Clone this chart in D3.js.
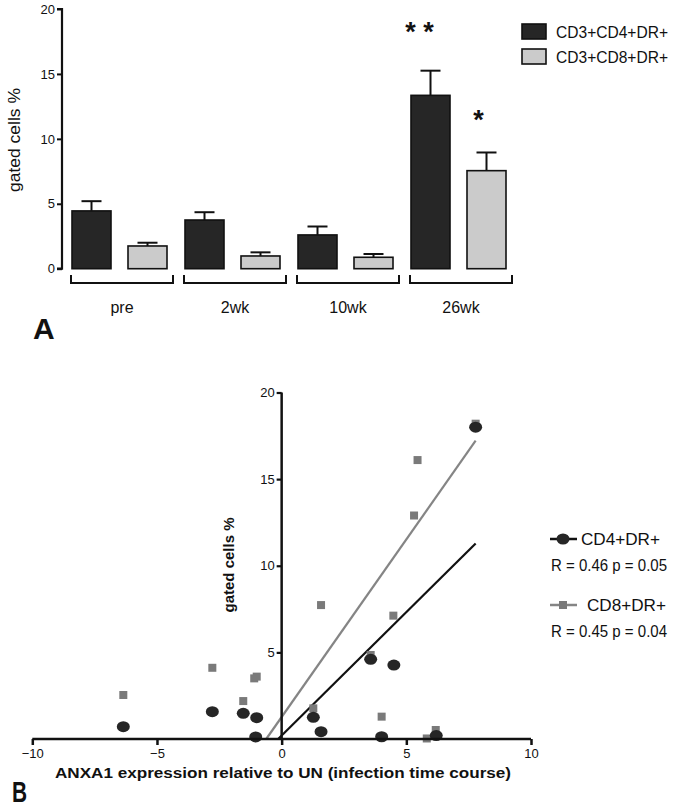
<!DOCTYPE html>
<html>
<head>
<meta charset="utf-8">
<script src="https://cdn.jsdelivr.net/npm/d3@7"></script>
<style>
  html, body { margin: 0; padding: 0; background: #fff; }
  svg { display: block; font-family: "Liberation Sans", Arial, sans-serif; }
</style>
</head>
<body>
<svg id="chart" width="675" height="809"></svg>
<script>
// ---------- Panel A data ----------
const categories = ["pre", "2wk", "10wk", "26wk"];
const seriesNames = ["CD3+CD4+DR+", "CD3+CD8+DR+"];
const cd4Mean = [4.45, 3.75, 2.6, 13.35];
const cd4Err  = [0.75, 0.6, 0.65, 1.9];
const cd8Mean = [1.75, 0.98, 0.88, 7.55];
const cd8Err  = [0.25, 0.28, 0.25, 1.4];
const yTicksA = [0, 5, 10, 15, 20];
const significance = [["", ""], ["", ""], ["", ""], ["* *", "*"]];

// ---------- Panel B data ----------
const cd4X = [-6.35, -2.78, -1.54, -1.0, -1.04, 1.27, 1.58, 3.57, 4.5, 4.01, 6.2, 7.78];
const cd4Y = [0.71, 1.58, 1.48, 1.23, 0.12, 1.25, 0.42, 4.6, 4.27, 0.13, 0.2, 18.0];
const cd8X = [-6.35, -2.78, -1.54, -1.1, -1.0, 1.27, 1.58, 3.57, 4.48, 4.01, 5.31, 5.45, 5.82, 6.18, 7.78];
const cd8Y = [2.54, 4.11, 2.19, 3.5, 3.6, 1.77, 7.73, 4.85, 7.12, 1.29, 12.9, 16.1, 0.03, 0.52, 18.2];
const fitSlope = [1.425, 2.05];      // CD4, CD8
const fitIntercept = [0.2, 1.27];
const fitXmax = 7.78;
const xTicksB = [-10, -5, 0, 5, 10];
const yTicksB = [5, 10, 15, 20];
const legendB = [
  { name: "CD4+DR+", stat: "R = 0.46 p = 0.05" },
  { name: "CD8+DR+", stat: "R = 0.45 p = 0.04" }
];

const svg = d3.select("#chart");
svg.append("rect").attr("width", 675).attr("height", 809).attr("fill", "#fff");

const dark = "#262626", light = "#cbcbcb";
const grayMark = "#7a7a7a";

// ================= Panel A =================
const gA = svg.append("g");
const yA = d3.scaleLinear().domain([0, 20]).range([268.7, 9]);
const xGroup = d3.scaleBand().domain(categories).range([71, 512]).paddingInner(11 / 113).paddingOuter(0);
const xSub = d3.scaleBand().domain(seriesNames).range([1, 96]).paddingInner(17 / 56).paddingOuter(0);

const barData = [];
categories.forEach((c, i) => {
  barData.push({ cat: c, s: seriesNames[0], v: cd4Mean[i], e: cd4Err[i], fill: dark, sig: significance[i][0] });
  barData.push({ cat: c, s: seriesNames[1], v: cd8Mean[i], e: cd8Err[i], fill: light, sig: significance[i][1] });
});

// error bars (behind)
barData.forEach(d => {
  const x0 = xGroup(d.cat) + xSub(d.s);
  const cx = x0 + xSub.bandwidth() / 2;
  gA.append("line").attr("x1", cx).attr("x2", cx).attr("y1", yA(d.v)).attr("y2", yA(d.v + d.e))
    .attr("stroke", "#111").attr("stroke-width", 2);
  gA.append("line").attr("x1", cx - 10).attr("x2", cx + 10).attr("y1", yA(d.v + d.e)).attr("y2", yA(d.v + d.e))
    .attr("stroke", "#111").attr("stroke-width", 2);
});
// bars
gA.selectAll("rect.bar").data(barData).join("rect").attr("class", "bar")
  .attr("x", d => xGroup(d.cat) + xSub(d.s))
  .attr("y", d => yA(d.v))
  .attr("width", xSub.bandwidth())
  .attr("height", d => yA(0) - yA(d.v))
  .attr("fill", d => d.fill)
  .attr("stroke", "#111").attr("stroke-width", 1.6);

// significance asterisks
barData.filter(d => d.sig).forEach(d => {
  const x0 = xGroup(d.cat) + xSub(d.s);
  const pair = d.sig.length > 1;
  const cx = x0 + xSub.bandwidth() / 2 - (pair ? 11 : 8);
  const yTop = yA(d.v + d.e);
  gA.append("text").attr("x", cx).attr("y", yTop - (pair ? 30 : 23))
    .attr("text-anchor", "middle").attr("font-size", 27).attr("font-weight", "bold")
    .attr("fill", "#111").text(d.sig);
});

// y axis
const axA = gA.append("g").attr("transform", "translate(62,0)")
  .call(d3.axisLeft(yA).tickValues(yTicksA).tickSize(5).tickPadding(2).tickFormat(d3.format("d")));
axA.select(".domain").attr("stroke", "#111").attr("stroke-width", 2.2).attr("d", `M-5,${yA(20)}H0V${yA(0)}H-5`);
axA.selectAll(".tick line").attr("stroke", "#111").attr("stroke-width", 2);
axA.selectAll(".tick text").attr("font-size", 13).attr("fill", "#111").attr("font-family", "Liberation Sans, Arial, sans-serif");

gA.append("text").attr("transform", "translate(20,140) rotate(-90)")
  .attr("text-anchor", "middle").attr("font-size", 16).attr("fill", "#111")
  .attr("textLength", 104).attr("lengthAdjust", "spacingAndGlyphs").text("gated cells %");

// brackets + category labels
categories.forEach(c => {
  const x1 = xGroup(c), x2 = xGroup(c) + xGroup.bandwidth();
  gA.append("path").attr("d", `M${x1},275V283H${x2}V275`).attr("fill", "none")
    .attr("stroke", "#111").attr("stroke-width", 2);
  gA.append("text").attr("x", (x1 + x2) / 2).attr("y", 313).attr("text-anchor", "middle")
    .attr("font-size", 16).attr("fill", "#111").text(c);
});

// legend A
seriesNames.forEach((s, i) => {
  const y = 24 + i * 25;
  gA.append("rect").attr("x", 522).attr("y", y).attr("width", 24).attr("height", 15)
    .attr("fill", i === 0 ? dark : light).attr("stroke", "#111").attr("stroke-width", 1.6);
  gA.append("text").attr("x", 556).attr("y", y + 14).attr("font-size", 16.5).attr("fill", "#111")
    .attr("textLength", 112).attr("lengthAdjust", "spacingAndGlyphs").text(s);
});

// panel label A
svg.append("text").attr("x", 33).attr("y", 339).attr("font-size", 30).attr("font-weight", "bold")
  .attr("fill", "#111").text("A");

// ================= Panel B =================
const gB = svg.append("g");
const xB = d3.scaleLinear().domain([-10, 10]).range([32.3, 531]);
const yB = d3.scaleLinear().domain([0, 20]).range([739, 392.5]);

// regression lines
const fitColors = ["#111", "#858585"];
fitSlope.forEach((m, i) => {
  const b = fitIntercept[i];
  const xStart = -b / m;
  gB.append("line").attr("x1", xB(xStart)).attr("y1", yB(0))
    .attr("x2", xB(fitXmax)).attr("y2", yB(m * fitXmax + b))
    .attr("stroke", fitColors[i]).attr("stroke-width", 2.2);
});

// CD8 squares
gB.selectAll("rect.cd8").data(cd8X.map((x, i) => [x, cd8Y[i]])).join("rect").attr("class", "cd8")
  .attr("x", d => xB(d[0]) - 4).attr("y", d => yB(d[1]) - 4)
  .attr("width", 8).attr("height", 8).attr("fill", grayMark);

// CD4 circles
gB.selectAll("ellipse.cd4").data(cd4X.map((x, i) => [x, cd4Y[i]])).join("ellipse").attr("class", "cd4")
  .attr("cx", d => xB(d[0])).attr("cy", d => yB(d[1]))
  .attr("rx", 6.5).attr("ry", 5.5).attr("fill", dark);

// axes
const axXB = gB.append("g").attr("transform", `translate(0,${yB(0)})`)
  .call(d3.axisBottom(xB).tickValues(xTicksB).tickSize(6).tickPadding(4).tickFormat(d3.format("d")));
axXB.select(".domain").attr("stroke", "#111").attr("stroke-width", 2.5).attr("d", `M${xB(-10)},0H${xB(10)}`);
axXB.selectAll(".tick line").attr("stroke", "#111").attr("stroke-width", 2.5);
axXB.selectAll(".tick text").attr("font-size", 13).attr("fill", "#111").attr("font-family", "Liberation Sans, Arial, sans-serif");

const axYB = gB.append("g").attr("transform", `translate(${xB(0)},0)`)
  .call(d3.axisLeft(yB).tickValues(yTicksB).tickSize(5).tickPadding(2).tickFormat(d3.format("d")));
axYB.select(".domain").attr("stroke", "#111").attr("stroke-width", 2.5).attr("d", `M0,${yB(0)}V${yB(20)}`);
axYB.selectAll(".tick line").attr("stroke", "#111").attr("stroke-width", 2.2);
axYB.selectAll(".tick text").attr("font-size", 13).attr("fill", "#111").attr("font-family", "Liberation Sans, Arial, sans-serif");

gB.append("text").attr("transform", "translate(234,565) rotate(-90)")
  .attr("text-anchor", "middle").attr("font-size", 14).attr("font-weight", "bold").attr("fill", "#111")
  .attr("textLength", 95).attr("lengthAdjust", "spacingAndGlyphs").text("gated cells %");

gB.append("text").attr("x", 55).attr("y", 778).attr("font-size", 14).attr("font-weight", "bold").attr("fill", "#111")
  .attr("textLength", 456).attr("lengthAdjust", "spacingAndGlyphs")
  .text("ANXA1 expression relative to UN (infection time course)");

// legend B
legendB.forEach((d, i) => {
  const y = i === 0 ? 539 : 605;
  gB.append("line").attr("x1", 550).attr("x2", 577).attr("y1", y).attr("y2", y)
    .attr("stroke", i === 0 ? "#111" : "#858585").attr("stroke-width", 2.5);
  if (i === 0) {
    gB.append("ellipse").attr("cx", 563).attr("cy", y).attr("rx", 6.5).attr("ry", 5.5).attr("fill", dark);
  } else {
    gB.append("rect").attr("x", 559).attr("y", y - 4).attr("width", 8).attr("height", 8).attr("fill", grayMark);
  }
  gB.append("text").attr("x", i === 0 ? 581 : 587).attr("y", y + 6).attr("font-size", 16).attr("fill", "#111")
    .attr("textLength", 79).attr("lengthAdjust", "spacingAndGlyphs").text(d.name);
  gB.append("text").attr("x", 551).attr("y", y + 32).attr("font-size", 16).attr("fill", "#111")
    .attr("textLength", 116).attr("lengthAdjust", "spacingAndGlyphs").text(d.stat);
});

// panel label B
svg.append("text").attr("transform", "translate(12,802) scale(0.72,1)").attr("font-size", 29)
  .attr("font-weight", "bold").attr("fill", "#111").text("B");
</script>
</body>
</html>
